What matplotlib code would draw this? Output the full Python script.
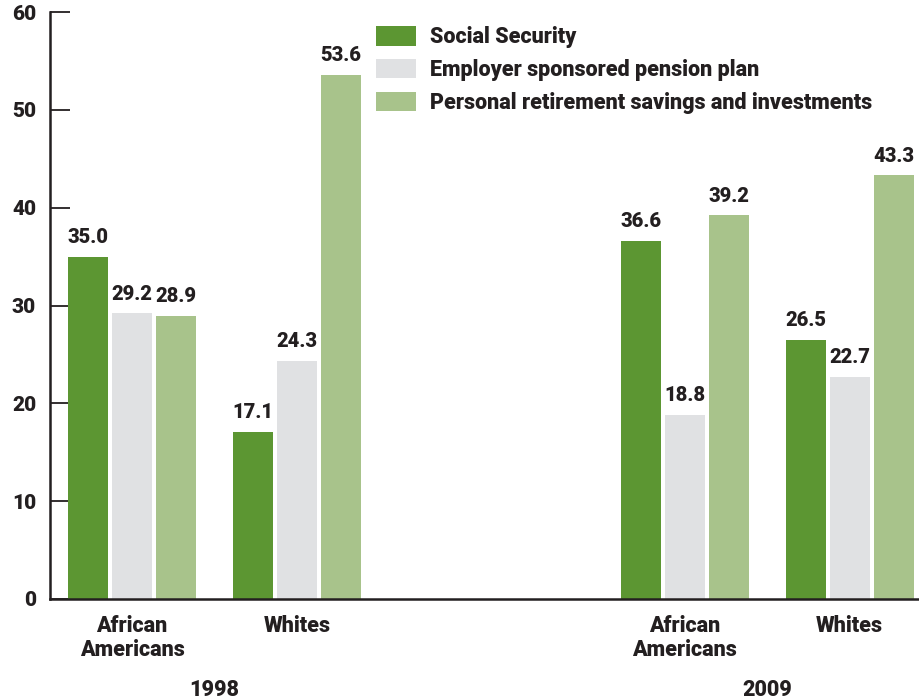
import numpy as np
from matplotlib import pyplot as plt

plt.rcParams['font.family'] = ['Roboto', 'DejaVu Sans']

groups = ['African\nAmericans', 'Whites', 'African\nAmericans', 'Whites']
years = ['1998', '2009']
series = ['Social Security', 'Employer sponsored pension plan',
          'Personal retirement savings and investments']
social_security = [35.0, 17.1, 36.6, 26.5]
employer_pension = [29.2, 24.3, 18.8, 22.7]
personal_savings = [28.9, 53.6, 39.2, 43.3]
yticks = [0, 10, 20, 30, 40, 50, 60]

colors = ['#5c9632', '#e0e1e3', '#a8c38b']
ink = '#231f20'
wt = 'black'

fig = plt.figure(figsize=(9.19, 7), dpi=100)
ax = fig.add_axes([50/919, 101/700, 869/919, 587/700])

pos = np.array([0, 1, 3.35, 4.35])
w = 40/165
step = 44/165
for i, vals in enumerate([social_security, employer_pension, personal_savings]):
    x = pos + (i-1)*step
    ax.bar(x, vals, width=w, color=colors[i], label=series[i], zorder=2)
    for xi, v in zip(x, vals):
        ax.text(xi, v + 1.0, f'{v:.1f}', ha='center', va='bottom',
                fontsize=14.5, fontweight=wt, color=ink)

ax.set_xlim(-82/165, 787/165)
ax.set_ylim(0, 60)
ax.set_yticks(yticks)
ax.set_xticks([])
for s in ['top', 'right']:
    ax.spines[s].set_visible(False)
for s in ['left', 'bottom']:
    ax.spines[s].set_linewidth(1.8)
    ax.spines[s].set_color(ink)
ax.tick_params(axis='y', direction='in', length=14.5, width=1.3, color=ink,
               pad=10, labelsize=15, labelcolor=ink)
for t in ax.get_yticklabels():
    t.set_fontweight(wt)

for p, g in zip(pos, groups):
    ax.text(p, -1.6, g, ha='center', va='top', fontsize=15.5, fontweight=wt,
            color=ink, linespacing=1.15)
for k, yr in enumerate(years):
    mid = (pos[2*k] + pos[2*k+1]) / 2
    ax.text(mid, -8.2, yr, ha='center', va='top', fontsize=15.5, fontweight=wt,
            color=ink)

leg = ax.legend(loc='upper left', bbox_to_anchor=(357/919, 1 - 7/700),
                bbox_transform=fig.transFigure, frameon=False,
                handlelength=1.85, handleheight=1.0, handletextpad=0.65,
                labelspacing=0.5, fontsize=15.5)
for t in leg.get_texts():
    t.set_fontweight(wt)
    t.set_color(ink)

fig.savefig('out.png', dpi=100)
